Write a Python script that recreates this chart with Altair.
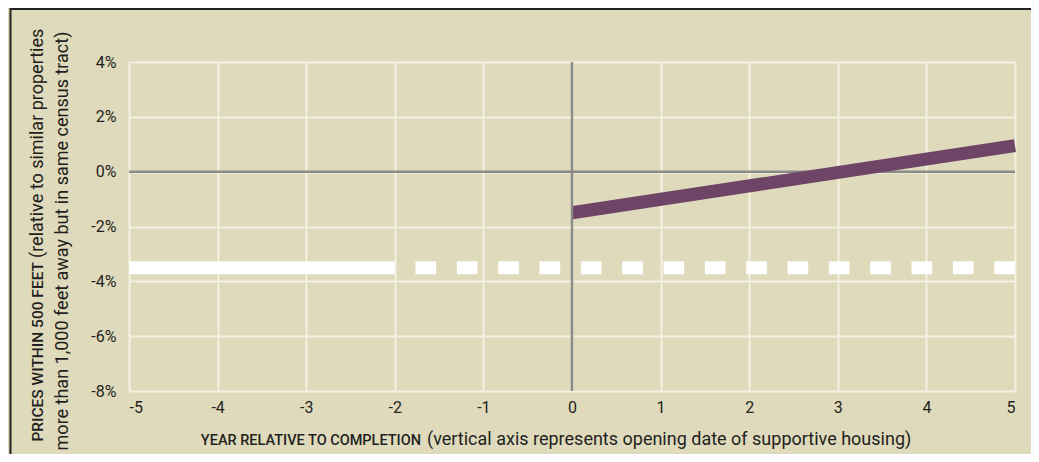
import altair as alt
import pandas as pd

# ---- data ----
solid_years = [-5, -2]
solid_vals = [-3.5, -3.5]
dashed_years = [-2, 5]
dashed_vals = [-3.5, -3.5]
purple_years = [0, 5]
purple_vals = [-1.5, 0.95]

x_ticks = [-5, -4, -3, -2, -1, 0, 1, 2, 3, 4, 5]
y_ticks = [-8, -6, -4, -2, 0, 2, 4]

BG = "#DFDABC"
GRID = "#F4F1E2"
ZERO = "#8A8A8A"
PURPLE = "#6E4467"
TXT = "#231F20"
FONT = "Roboto"

W, H = 886, 329

xs = alt.Scale(domain=[-5, 5], nice=False, zero=False)
ys = alt.Scale(domain=[-8, 4], nice=False, zero=False)

x_axis = alt.Axis(values=x_ticks, labelExpr="'' + datum.value", title=None,
                  grid=True, domain=False, ticks=False, labelPadding=8)
y_axis = alt.Axis(values=y_ticks, labelExpr="datum.value + '%'", title=None,
                  grid=True, domain=False, ticks=False, labelPadding=13)


def xenc(f):
    return alt.X(f, type="quantitative", scale=xs, axis=x_axis)


def yenc(f):
    return alt.Y(f, type="quantitative", scale=ys, axis=y_axis)


solid_df = pd.DataFrame({"year": solid_years, "val": solid_vals})
dashed_df = pd.DataFrame({"year": dashed_years, "val": dashed_vals})
purple_df = pd.DataFrame({"year": purple_years, "val": purple_vals})

solid = alt.Chart(solid_df).mark_line(color="white", strokeWidth=13, strokeCap="butt").encode(
    x=xenc("year"), y=yenc("val"))

dashed = alt.Chart(dashed_df).mark_line(
    color="white", strokeWidth=13, strokeCap="butt",
    strokeDash=[20.67, 20.67], strokeDashOffset=20.67).encode(
    x=xenc("year"), y=yenc("val"))

purple = alt.Chart(purple_df).mark_line(color=PURPLE, strokeWidth=13, strokeCap="butt").encode(
    x=xenc("year"), y=yenc("val"))

hzero = alt.Chart(pd.DataFrame({"v": [0]})).mark_rule(color=ZERO, strokeWidth=2.5).encode(
    y=yenc("v"))
vzero = alt.Chart(pd.DataFrame({"v": [0]})).mark_rule(color=ZERO, strokeWidth=2.5).encode(
    x=xenc("v"))


# titles (small caps part + regular part)
def txt(s, x, y, size, align, angle=0, weight="normal"):
    return alt.Chart(pd.DataFrame({"t": [s]})).mark_text(
        align=align, baseline="alphabetic", fontSize=size, font=FONT, color=TXT,
        angle=angle, fontWeight=weight).encode(
        x=alt.value(x), y=alt.value(y), text="t:N")


xt1 = txt("YEAR RELATIVE TO COMPLETION", 292, 383, 14.5, "right", weight=500)
xt2 = txt("(vertical axis represents opening date of supportive housing)", 298, 383, 18, "left")
yt1 = txt("PRICES WITHIN 500 FEET", -86, 200, 15.5, "right", angle=270, weight=500)
yt2 = txt("(relative to similar properties", -86, 196, 18, "left", angle=270)
yt3 = txt("more than 1,000 feet away but in same census tract)", -61, 179, 18, "center", angle=270)

# frame border of the figure
top_border = alt.Chart(pd.DataFrame({"a": [0]})).mark_rule(color="#222", strokeWidth=2).encode(
    x=alt.value(-119), x2=alt.value(910), y=alt.value(-53))
left_border = alt.Chart(pd.DataFrame({"a": [0]})).mark_rule(color="#222", strokeWidth=2).encode(
    x=alt.value(-118.5), y=alt.value(-54), y2=alt.value(400))

chart = alt.layer(
    hzero, solid, dashed, purple, vzero,
    xt1, xt2, yt1, yt2, yt3, top_border, left_border
).properties(
    width=W, height=H,
    background=BG,
    padding={"left": 121, "top": 54, "right": 16, "bottom": 63},
    autosize=alt.AutoSizeParams(type="none"),
).configure_view(
    stroke="transparent"
).configure_axis(
    gridColor=GRID, gridWidth=2, gridOpacity=1,
    labelFont=FONT, labelFontSize=16, labelColor=TXT,
).configure_axisY(
    labelAlign="right"
)

chart.save("out.html", embed_options={"renderer": "svg", "actions": False})
